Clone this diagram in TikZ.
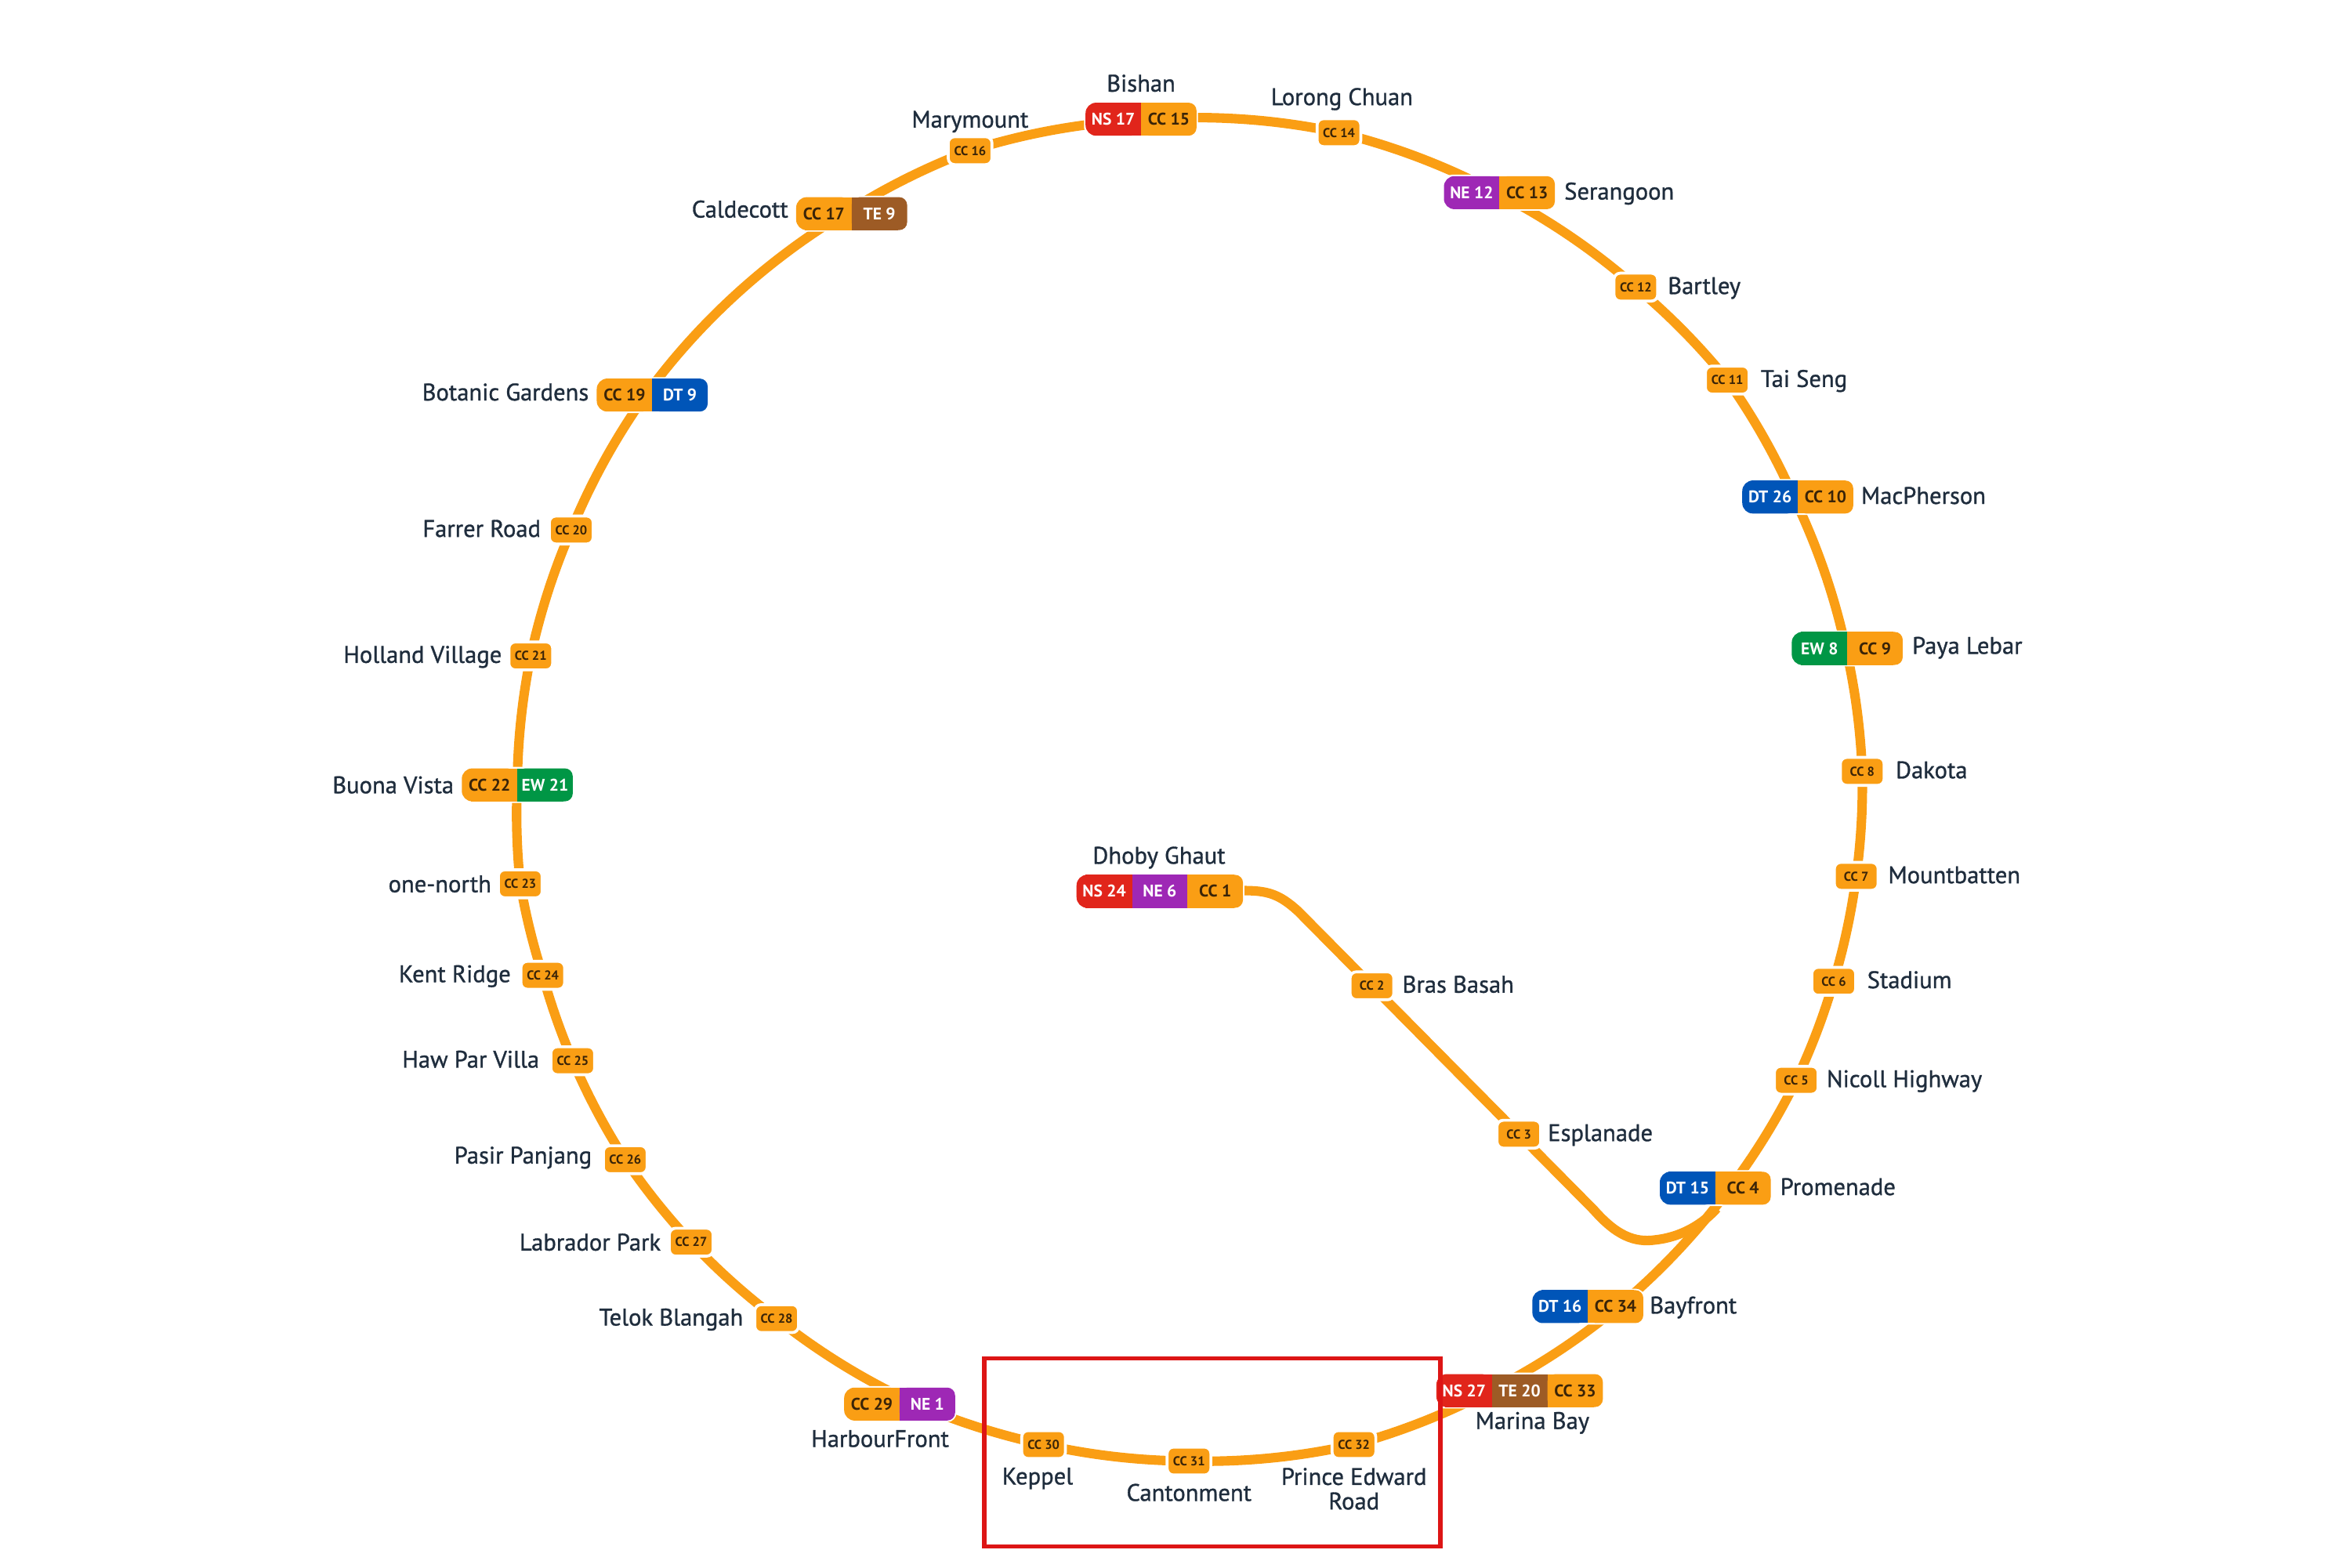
\documentclass[tikz,border=0pt]{standalone}
\usepackage{fontspec}
\setmainfont{PT Sans}
\newfontfamily\lblfont{PT Sans}[FakeBold=1]
\usetikzlibrary{calc}
\definecolor{cc}{HTML}{FA9E14}
\definecolor{ns}{HTML}{E1251B}
\definecolor{ne}{HTML}{9E28B5}
\definecolor{dt}{HTML}{0055B8}
\definecolor{ew}{HTML}{009645}
\definecolor{te}{HTML}{9D5B25}
\definecolor{lab}{HTML}{1F2D3D}
\definecolor{cct}{HTML}{3A2408}
\definecolor{boxr}{HTML}{DD1515}
\pgfdeclarelayer{bg}
\pgfsetlayers{bg,main}
\tikzset{
  ccline/.style={draw=cc,line width=3.6pt,line cap=butt},
  lbl/.style={text=lab,inner sep=0pt,yshift=-0.55pt,font=\lblfont\fontsize{9.1}{9.3}\selectfont,text height=6.6pt,text depth=1.9pt},
  lbltwo/.style={text=lab,inner sep=0pt,font=\lblfont\fontsize{9.1}{9.3}\selectfont,align=center},
  smallbadge/.style={fill=cc,draw=white,line width=1.1pt,rounded corners=2.4pt,minimum width=16.6pt,minimum height=10.6pt,inner sep=0pt,text=cct,font=\bfseries\fontsize{4.9}{5}\selectfont},
  bigbadge/.style={fill=#1,draw=white,line width=1.1pt,rounded corners=3pt,minimum height=.44cm,inner sep=0pt},
  segtext/.style={inner sep=0pt,text=#1,font=\bfseries\fontsize{6.4}{7}\selectfont},
}
% small station: name, x, y, code
\newcommand\stnS[4]{\node[smallbadge] (#1) at (#2,#3+0.5) {#4};}
% badge part helpers: x0, x1, y, colour
\newcommand\segL[4]{\fill[#4,rounded corners=4pt] (#1,#3-11) rectangle (#2,#3+11);\fill[#4] (#1+6,#3-11) rectangle (#2,#3+11);}
\newcommand\segM[4]{\fill[#4] (#1,#3-11) rectangle (#2,#3+11);}
\newcommand\segR[4]{\fill[#4,rounded corners=3pt] (#1,#3-11) rectangle (#2,#3+11);\fill[#4] (#1,#3-11) rectangle (#2-6,#3+11);}
% two-part station: name, cx, cy, colL, txtL, labL, colR, txtR, labR
\newcommand\stnB[9]{%
  \node[bigbadge=#7,minimum width=1.48cm] (#1) at (#2,#3) {};
  \pgfmathsetmacro\xa{#2-37}\pgfmathsetmacro\xb{#2+37}
  \segL{\xa}{#2}{#3}{#4}\segR{#2}{\xb}{#3}{#7}
  \node[segtext=#5] (#1-a) at (#2-18.5,#3) {#6};
  \node[segtext=#8] (#1-b) at (#2+18.5,#3) {#9};
}
% three-part station: name, cx, cy, colL, labL, colM, labM, labR (right part is always CC)
\newcommand\stnC[8]{%
  \node[bigbadge=cc,minimum width=2.22cm] (#1) at (#2,#3) {};
  \pgfmathsetmacro\xa{#2-55.5}\pgfmathsetmacro\xb{#2-18.5}\pgfmathsetmacro\xc{#2+18.5}\pgfmathsetmacro\xd{#2+55.5}
  \segL{\xa}{\xb}{#3}{#4}\segM{\xb}{\xc}{#3}{#6}\segR{\xc}{\xd}{#3}{cc}
  \node[segtext=white] (#1-a) at (#2-37,#3) {#5};
  \node[segtext=white] (#1-b) at (#2,#3) {#7};
  \node[segtext=cct] (#1-c) at (#2+37,#3) {#8};
}
% arc connector along the ring
\newcommand\seg[2]{%
  \path let \p1=($(#1)-(#2)$) in \pgfextra{\pgfmathsetmacro\bendang{asin(veclen(\x1,\y1)/508)}\global\let\bendang\bendang};
  \draw[ccline] (#1.center) to[bend left=\bendang,looseness=.85] (#2.center);
}
\begin{document}
\begin{tikzpicture}[x=0.02cm,y=-0.02cm]
\useasboundingbox (0,0) rectangle (1568,1045.33);
% ring points of the interchange badges
\coordinate (r-bishan) at (761,80);
\coordinate (r-serangoon) at (997,128);
\coordinate (r-macpherson) at (1196,331);
\coordinate (r-paya) at (1231,432);
\coordinate (r-promenade) at (1154,792);
\coordinate (r-bayfront) at (1080,871);
\coordinate (r-marina) at (995,927);
\coordinate (r-harbour) at (610,936);
\coordinate (r-buona) at (345,523);
\coordinate (r-botanic) at (431,263);
\coordinate (r-caldecott) at (564,142);
\coordinate (r-dhoby) at (810,594);
\coordinate (j-prom) at (1145,806);
\coordinate (e-a) at (1063,807);
\coordinate (e-b) at (1104,827);
\coordinate (d-a) at (866,608);
% stations
\stnB{bishan}{761}{79.5}{ns}{white}{NS 17}{cc}{cct}{CC 15}
\stnS{c14}{893}{88}{CC 14}
\stnB{serangoon}{1000}{128.5}{ne}{white}{NE 12}{cc}{cct}{CC 13}
\stnS{c12}{1091}{191}{CC 12}
\stnS{c11}{1152}{253}{CC 11}
\stnB{macpherson}{1199}{331.5}{dt}{white}{DT 26}{cc}{cct}{CC 10}
\stnB{paya}{1232}{432.5}{ew}{white}{EW 8}{cc}{cct}{CC 9}
\stnS{c8}{1242}{514}{CC 8}
\stnS{c7}{1238}{584}{CC 7}
\stnS{c6}{1223}{654}{CC 6}
\stnS{c5}{1198}{720}{CC 5}
\stnB{promenade}{1144}{792.5}{dt}{white}{DT 15}{cc}{cct}{CC 4}
\stnB{bayfront}{1059}{871.5}{dt}{white}{DT 16}{cc}{cct}{CC 34}
\stnC{marina}{1013.5}{927.5}{ns}{NS 27}{te}{TE 20}{CC 33}
\stnS{c32}{903}{963}{CC 32}
\stnS{c31}{793}{974}{CC 31}
\stnS{c30}{696}{963}{CC 30}
\stnB{harbour}{600}{936.5}{cc}{cct}{CC 29}{ne}{white}{NE 1}
\stnS{c28}{518}{879}{CC 28}
\stnS{c27}{461}{828}{CC 27}
\stnS{c26}{417}{773}{CC 26}
\stnS{c25}{382}{707}{CC 25}
\stnS{c24}{362}{650}{CC 24}
\stnS{c23}{347}{589}{CC 23}
\stnB{buona}{345}{523.5}{cc}{cct}{CC 22}{ew}{white}{EW 21}
\stnS{c21}{354}{437}{CC 21}
\stnS{c20}{381}{353}{CC 20}
\stnB{botanic}{435}{263.5}{cc}{cct}{CC 19}{dt}{white}{DT 9}
\stnB{caldecott}{568}{142.5}{cc}{cct}{CC 17}{te}{white}{TE 9}
\stnS{c16}{647}{100}{CC 16}
\stnC{dhoby}{773.5}{594.5}{ns}{NS 24}{ne}{NE 6}{CC 1}
\stnS{c2}{915}{657}{CC 2}
\stnS{c3}{1013}{756}{CC 3}
% station names
\node[lbl] (l-bishan) at (761,56) {Bishan};
\node[lbl] (l-marymount) at (647,80) {Marymount};
\node[lbl] (l-lorong) at (895,65) {Lorong Chuan};
\node[lbl,anchor=west] (l-serangoon) at (1043,128) {Serangoon};
\node[lbl,anchor=west] (l-bartley) at (1112,191) {Bartley};
\node[lbl,anchor=west] (l-taiseng) at (1174,253) {Tai Seng};
\node[lbl,anchor=west] (l-macpherson) at (1241,331) {MacPherson};
\node[lbl,anchor=west] (l-paya) at (1275,431) {Paya Lebar};
\node[lbl,anchor=west] (l-dakota) at (1264,514) {Dakota};
\node[lbl,anchor=west] (l-mount) at (1259,584) {Mountbatten};
\node[lbl,anchor=west] (l-stadium) at (1245,654) {Stadium};
\node[lbl,anchor=west] (l-nicoll) at (1218,720) {Nicoll Highway};
\node[lbl,anchor=west] (l-prom) at (1187,792) {Promenade};
\node[lbl,anchor=west] (l-bay) at (1100,871) {Bayfront};
\node[lbl] (l-marina) at (1022,948) {Marina Bay};
\node[lbltwo] (l-prince) at (903,993) {Prince Edward\\Road};
\node[lbl] (l-canton) at (793,996) {Cantonment};
\node[lbl] (l-keppel) at (692,985) {Keppel};
\node[lbl] (l-harbour) at (587,960) {HarbourFront};
\node[lbl,anchor=east] (l-telok) at (496,879) {Telok Blangah};
\node[lbl,anchor=east] (l-labrador) at (441,829) {Labrador Park};
\node[lbl,anchor=east] (l-pasir) at (395,771) {Pasir Panjang};
\node[lbl,anchor=east] (l-haw) at (360,707) {Haw Par Villa};
\node[lbl,anchor=east] (l-kent) at (341,650) {Kent Ridge};
\node[lbl,anchor=east] (l-one) at (328,590) {one-north};
\node[lbl,anchor=east] (l-buona) at (303,524) {Buona Vista};
\node[lbl,anchor=east] (l-holland) at (335,437) {Holland Village};
\node[lbl,anchor=east] (l-farrer) at (361,353) {Farrer Road};
\node[lbl,anchor=east] (l-botanic) at (393,262) {Botanic Gardens};
\node[lbl,anchor=east] (l-caldecott) at (526,140) {Caldecott};
\node[lbl] (l-dhoby) at (773,571) {Dhoby Ghaut};
\node[lbl,anchor=west] (l-bras) at (935,657) {Bras Basah};
\node[lbl,anchor=west] (l-espl) at (1032,756) {Esplanade};
% connectors
\begin{pgfonlayer}{bg}
\seg{r-bishan}{c14}\seg{c14}{r-serangoon}\seg{r-serangoon}{c12}\seg{c12}{c11}
\seg{c11}{r-macpherson}\seg{r-macpherson}{r-paya}\seg{r-paya}{c8}\seg{c8}{c7}
\seg{c7}{c6}\seg{c6}{c5}\seg{c5}{r-promenade}\seg{r-promenade}{r-bayfront}
\seg{r-bayfront}{r-marina}\seg{r-marina}{c32}\seg{c32}{c31}\seg{c31}{c30}
\seg{c30}{r-harbour}\seg{r-harbour}{c28}\seg{c28}{c27}\seg{c27}{c26}
\seg{c26}{c25}\seg{c25}{c24}\seg{c24}{c23}\seg{c23}{r-buona}\seg{r-buona}{c21}
\seg{c21}{c20}\seg{c20}{r-botanic}\seg{r-botanic}{r-caldecott}\seg{r-caldecott}{c16}
\seg{c16}{r-bishan}
\draw[ccline] (r-dhoby) -- (829,594) .. controls (845,594) and (853,596) .. (d-a.center) -- (c2.center) -- (c3.center) -- (e-a.center) .. controls (1078,824) and (1090,829) .. (e-b.center) .. controls (1122,825) and (1136,816) .. (j-prom.center);
\end{pgfonlayer}
% highlight frame
\draw[boxr,line width=1.7pt] (656.5,906) rectangle (960.5,1031.5);
\end{tikzpicture}
\end{document}
